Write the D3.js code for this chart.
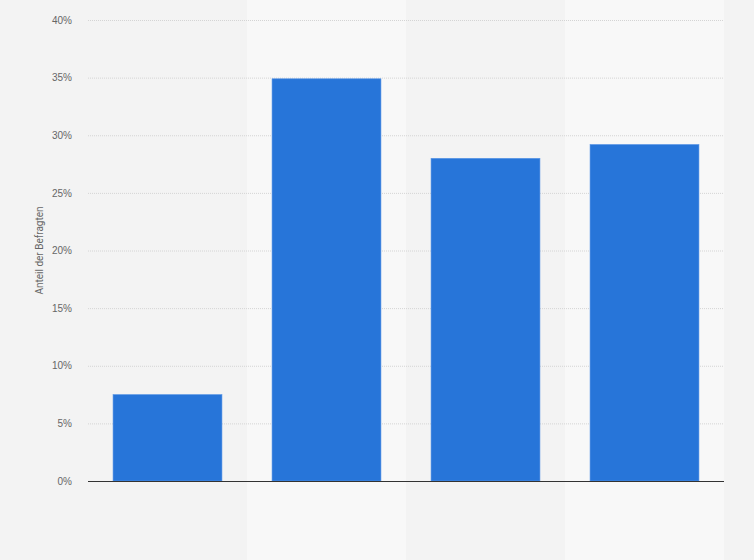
<!DOCTYPE html>
<html>
<head>
<meta charset="utf-8">
<script src="https://cdn.jsdelivr.net/npm/d3@7"></script>
<style>
  html, body { margin: 0; padding: 0; background: #f3f3f3; }
  svg { display: block; font-family: Roboto, "Liberation Sans", Arial, sans-serif; }
</style>
</head>
<body>
<div id="chart"></div>
<script>
// data (category names are not shown)
const categories = ['A', 'B', 'C', 'D']
const values = [7.5, 34.9, 28.0, 29.2]
const yTicks = [0, 5, 10, 15, 20, 25, 30, 35, 40]
const yLabel = 'Anteil der Befragten'

const width = 754
const height = 560
const margin = { top: 20, right: 30, bottom: 79, left: 88 }

const svg = d3.select('#chart')
  .append('svg')
  .attr('width', width)
  .attr('height', height)

svg.append('rect')
  .attr('width', width)
  .attr('height', height)
  .attr('fill', '#f3f3f3')

// column bands, every second one lighter
const bands = d3.scaleBand()
  .domain(categories)
  .range([margin.left, width - margin.right])
  .padding(0)

const x = d3.scaleBand()
  .domain(categories)
  .range([margin.left, width - margin.right])
  .paddingInner(0.315)
  .paddingOuter(0.1575)

const y = d3.scaleLinear()
  .domain([0, 40])
  .range([height - margin.bottom, margin.top])

svg.selectAll('.stripe')
  .data(categories.filter((d, i) => i % 2 === 1))
  .enter()
  .append('rect')
  .attr('class', 'stripe')
  .attr('x', d => bands(d))
  .attr('y', 0)
  .attr('width', bands.bandwidth())
  .attr('height', height)
  .attr('fill', '#f8f8f8')

// gridlines
svg.append('g')
  .selectAll('line')
  .data(yTicks.filter(t => t > 0))
  .enter()
  .append('line')
  .attr('x1', margin.left)
  .attr('x2', width - margin.right)
  .attr('y1', d => y(d) + 0.5)
  .attr('y2', d => y(d) + 0.5)
  .attr('stroke', '#d4d4d4')
  .attr('stroke-width', 1)
  .attr('stroke-dasharray', '1,1')

// y axis labels
const yAxis = d3.axisLeft(y)
  .tickValues(yTicks)
  .tickFormat(d => d + '%')
  .tickSize(0)
  .tickPadding(16)

const gy = svg.append('g')
  .attr('transform', `translate(${margin.left},0)`)
  .call(yAxis)
gy.select('.domain').remove()
gy.selectAll('text')
  .attr('fill', '#666')
  .style('font-size', '10px')

svg.append('text')
  .attr('transform', `translate(43,${(margin.top + height - margin.bottom) / 2}) rotate(-90)`)
  .attr('text-anchor', 'middle')
  .attr('fill', '#666')
  .style('font-size', '10px')
  .text(yLabel)

// bars
svg.selectAll('.bar')
  .data(categories)
  .enter()
  .append('rect')
  .attr('class', 'bar')
  .attr('x', d => x(d))
  .attr('y', (d, i) => y(values[i]))
  .attr('width', x.bandwidth())
  .attr('height', (d, i) => y(0) - y(values[i]))
  .attr('fill', '#2775d9')
  .attr('stroke', '#5b97e6')
  .attr('stroke-width', 0.6)

// baseline
svg.append('line')
  .attr('x1', margin.left)
  .attr('x2', width - margin.right)
  .attr('y1', y(0) + 0.5)
  .attr('y2', y(0) + 0.5)
  .attr('stroke', '#333')
  .attr('stroke-width', 1.2)
</script>
</body>
</html>
